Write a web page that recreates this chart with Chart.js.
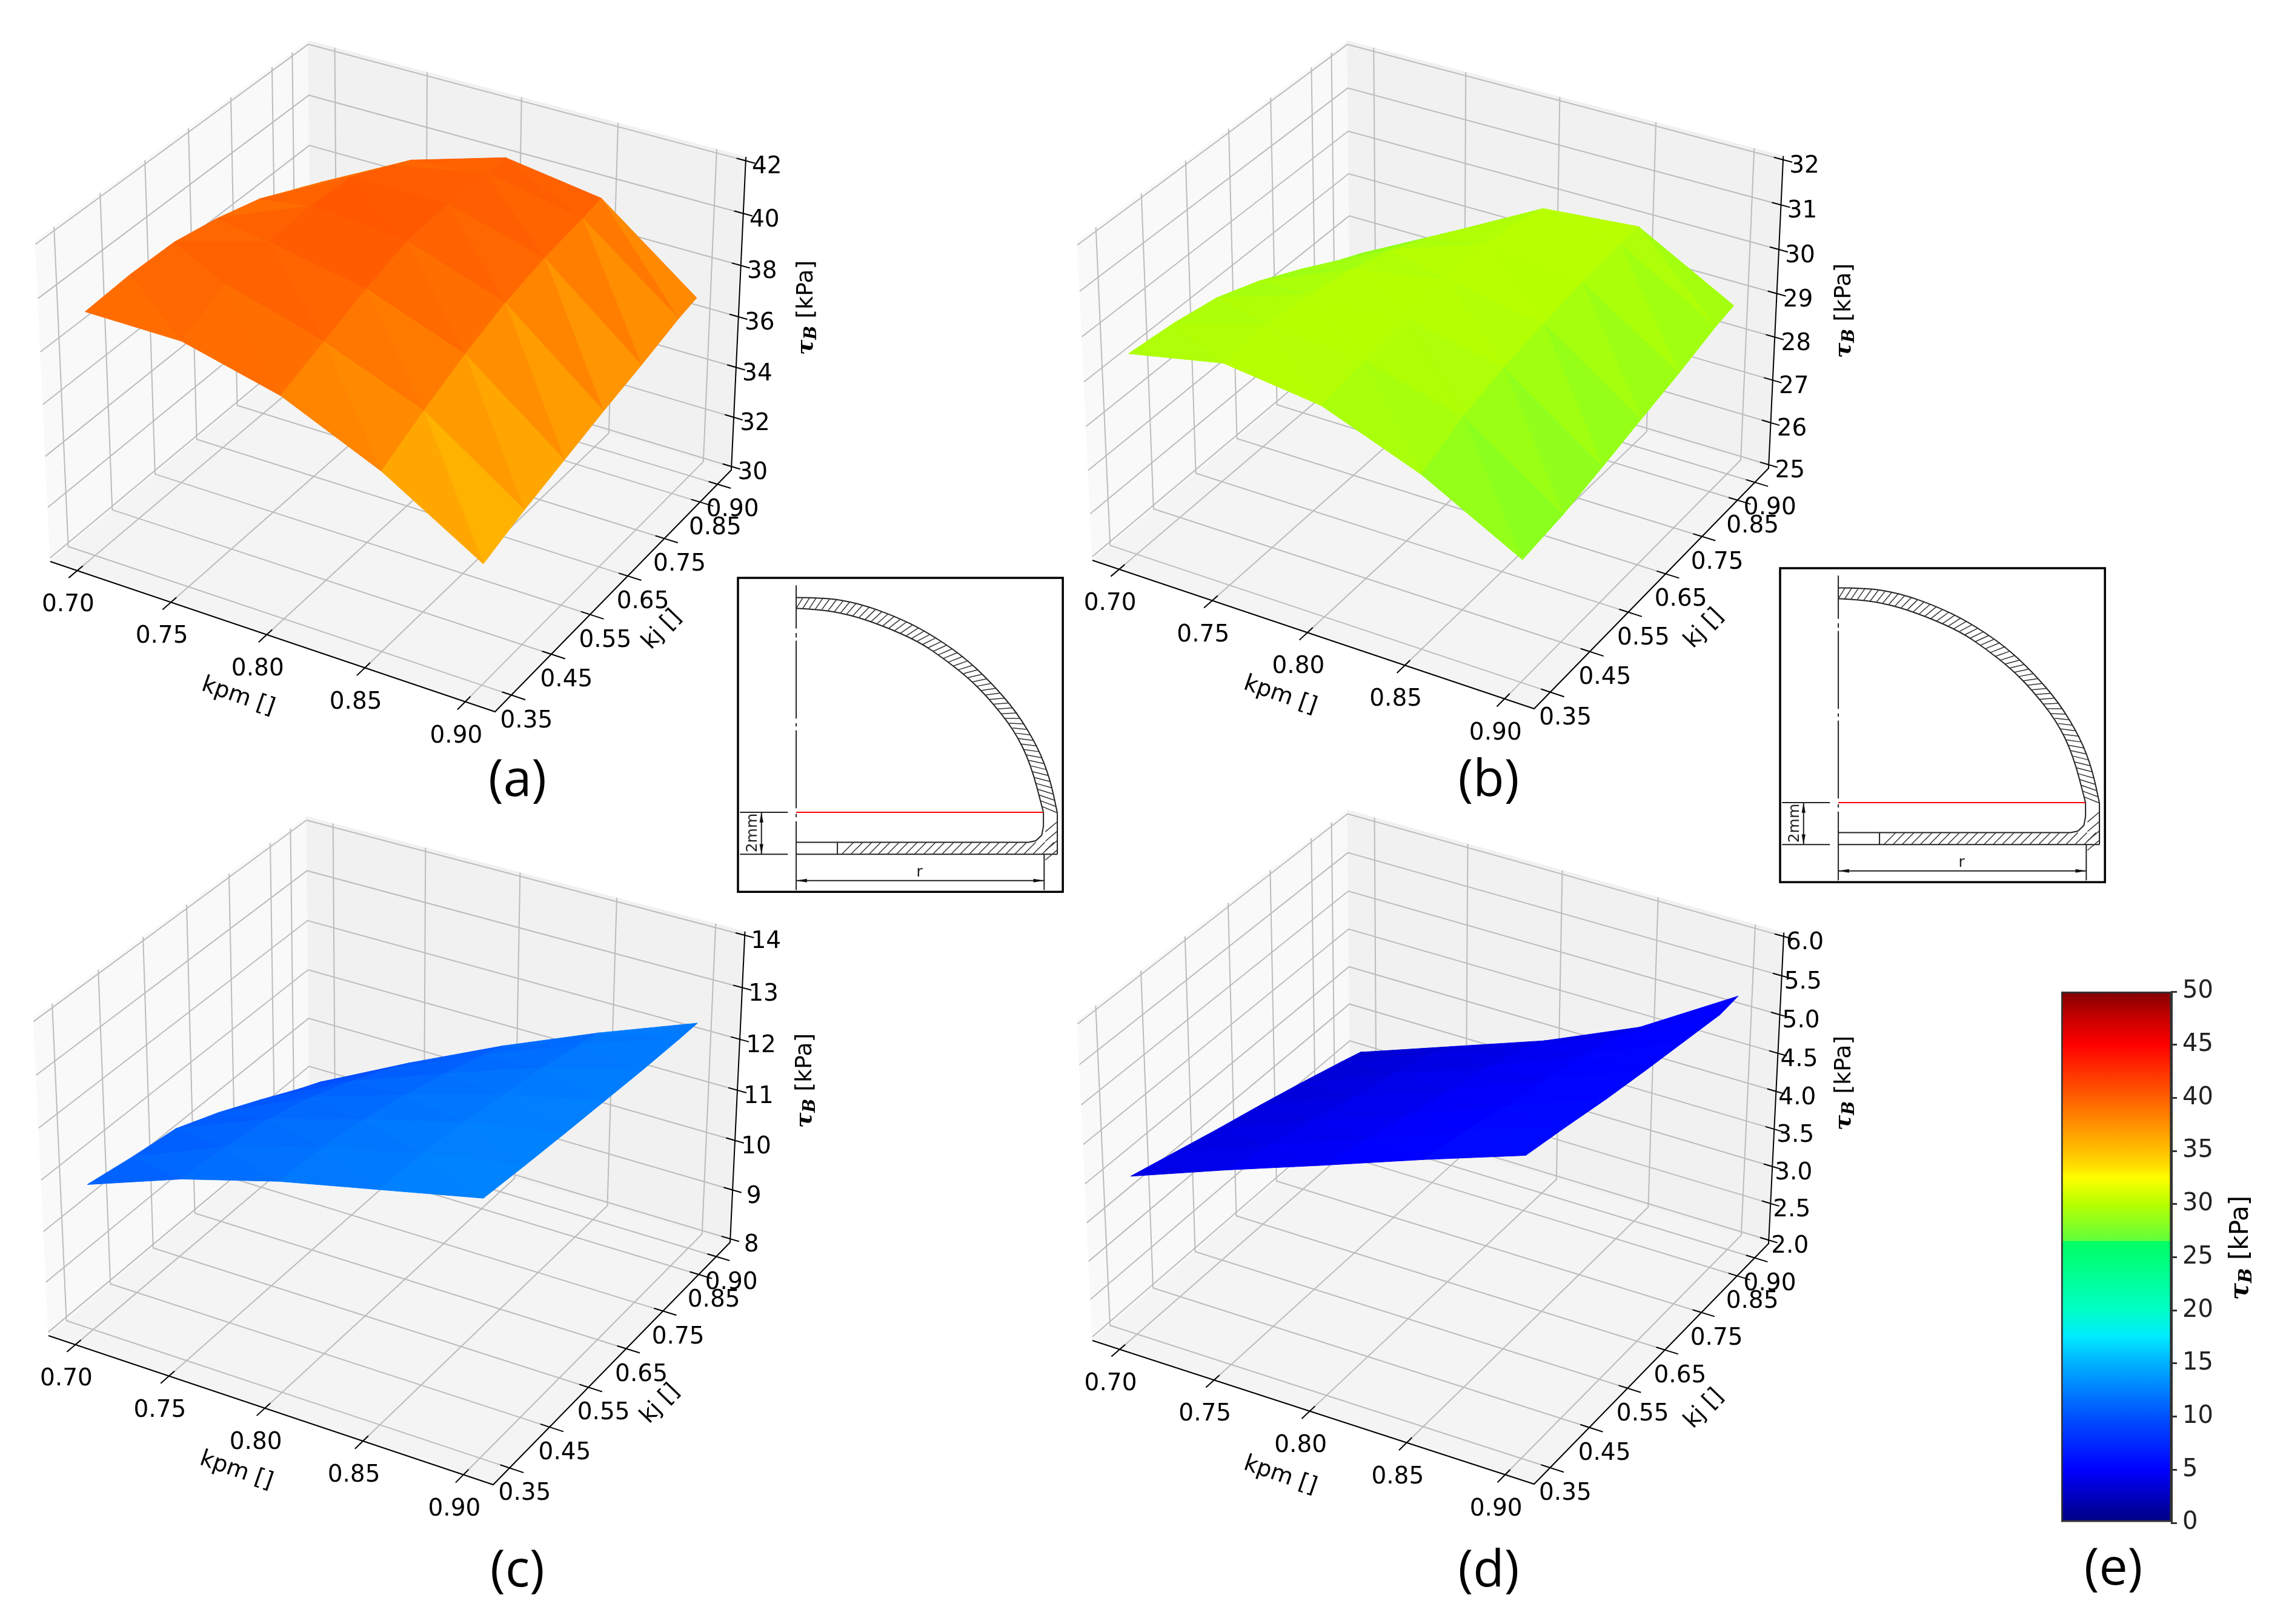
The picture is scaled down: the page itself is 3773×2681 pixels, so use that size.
<!DOCTYPE html>
<html>
<head>
<meta charset="utf-8">
<title>tau B surfaces</title>
<script src="https://cdn.jsdelivr.net/npm/chart.js@4"></script>
<style>
  html, body { margin: 0; padding: 0; background: #fff; }
  #wrap { position: relative; width: 3773px; height: 2681px; overflow: hidden; }
  canvas { position: absolute; }
</style>
</head>
<body>
<div id="wrap">
  <canvas id="myChart" width="3773" height="2681" style="left:0;top:0"></canvas>
  <canvas id="barChart" width="433" height="960" style="left:3340px;top:1600px"></canvas>
</div>
<script>
// data
const kpmValues = [0.70, 0.75, 0.80, 0.85, 0.90];
const kjValues = [0.35, 0.45, 0.55, 0.65, 0.75, 0.85, 0.90];
const kpmLabels = ['0.70', '0.75', '0.80', '0.85', '0.90'];
const kjLabels = ['0.35', '0.45', '0.55', '0.65', '0.75', '0.85', '0.90'];

// one row per kpm, one column per kj
const surfaceA = [
  [39.3, 39.4, 39.35, 39.0, 38.5, 37.7, 37.3],
  [39.3, 40.1, 40.4, 40.5, 40.4, 39.6, 39.2],
  [38.4, 39.05, 39.7, 40.2, 40.35, 40.3, 40.3],
  [36.75, 37.6, 38.35, 38.95, 39.35, 39.6, 39.75],
  [34.5, 35.05, 35.5, 35.95, 36.35, 36.8, 36.95]
];
const surfaceB = [
  [29.5, 29.39, 29.2, 28.82, 28.33, 27.8, 27.57],
  [29.94, 30.0, 29.9, 29.7, 29.4, 28.95, 28.69],
  [29.67, 29.85, 30.0, 30.1, 30.15, 30.0, 29.84],
  [28.84, 29.28, 29.55, 29.75, 29.9, 30.0, 30.03],
  [27.67, 27.8, 28.02, 28.26, 28.49, 28.76, 28.85]
];
const surfaceC = [
  [10.8, 10.64, 10.51, 10.15, 9.73, 9.29, 9.09],
  [11.48, 11.4, 11.25, 11.0, 10.65, 10.25, 10.03],
  [12.01, 11.95, 11.8, 11.6, 11.35, 11.05, 10.91],
  [12.43, 12.4, 12.3, 12.15, 12.0, 11.8, 11.7],
  [12.85, 12.75, 12.66, 12.58, 12.5, 12.44, 12.42]
];
const surfaceD = [
  [4.02, 3.86, 3.7, 3.55, 3.39, 3.22, 3.13],
  [4.48, 4.33, 4.18, 4.03, 3.88, 3.7, 3.57],
  [4.92, 4.77, 4.63, 4.48, 4.34, 4.15, 4.01],
  [5.37, 5.25, 5.1, 4.98, 4.85, 4.67, 4.55],
  [5.8, 5.69, 5.57, 5.47, 5.38, 5.29, 5.31]
];

const zTicksA = [30, 32, 34, 36, 38, 40, 42];
const zTicksB = [25, 26, 27, 28, 29, 30, 31, 32];
const zTicksC = [8, 9, 10, 11, 12, 13, 14];
const zTicksD = [2, 2.5, 3, 3.5, 4, 4.5, 5, 5.5, 6];
const zLabelsA = ['30', '32', '34', '36', '38', '40', '42'];
const zLabelsB = ['25', '26', '27', '28', '29', '30', '31', '32'];
const zLabelsC = ['8', '9', '10', '11', '12', '13', '14'];
const zLabelsD = ['2.0', '2.5', '3.0', '3.5', '4.0', '4.5', '5.0', '5.5', '6.0'];

// colour bar, same map colours the facets
const barTicks = [0, 50];
const mapValues = [0, 2.5, 5, 10, 15, 17.5, 20, 25, 26.5, 26.55, 30, 32.5, 33.5, 35, 37.5, 40, 42.5, 45, 47.5, 50];
const mapColors = ['#00007f', '#0000c0', '#0000ff', '#0050ff', '#00b0ff', '#00eaff', '#00ffc8', '#00ff78', '#00ff64',
  '#60ff3c', '#b8ff00', '#ffff00', '#ffe000', '#ffc000', '#ff9000', '#ff5f00', '#ff3000', '#ff0000', '#c80000', '#800000'];

// box corners on the page: p000 p100 p110 p010 p001 p111 (kpm, kj, tau)
const cornersA = [[83, 927], [817, 1175], [1207, 776], [514, 567], [58, 397], [1230, 250]];
const cornersB = [[1803, 925], [2532, 1170], [2919, 773], [2229, 566], [1778, 398], [2943, 255]];
const cornersC = [[80, 2205], [814, 2451], [1205, 2051], [511, 1844], [55, 1680], [1228, 1526]];
const cornersD = [[1803, 2213], [2532, 2450], [2919, 2053], [2229, 1844], [1778, 1684], [2943, 1530]];

const panelLetters = ['(a)', '(b)', '(c)', '(d)', '(e)'];
const letterPos = [[854, 1290], [2457, 1290], [854, 2595], [2457, 2595], [3488, 2592]];
const insetPos = [[1218, 954], [2938, 938]];

const panels = [
  { corners: cornersA, z: surfaceA, zTicks: zTicksA, zLabels: zLabelsA },
  { corners: cornersB, z: surfaceB, zTicks: zTicksB, zLabels: zLabelsB },
  { corners: cornersC, z: surfaceC, zTicks: zTicksC, zLabels: zLabelsC },
  { corners: cornersD, z: surfaceD, zTicks: zTicksD, zLabels: zLabelsD }
];

function hexToRgb(h) {
  return [parseInt(h.substr(1, 2), 16), parseInt(h.substr(3, 2), 16), parseInt(h.substr(5, 2), 16)];
}

function mapColor(v) {
  var i = 0;
  while (i < mapValues.length - 2 && v > mapValues[i + 1]) i++;
  var t = (v - mapValues[i]) / (mapValues[i + 1] - mapValues[i]);
  t = Math.max(0, Math.min(1, t));
  var a = hexToRgb(mapColors[i]), b = hexToRgb(mapColors[i + 1]);
  return 'rgb(' + [0, 1, 2].map(function (k) { return Math.round(a[k] + (b[k] - a[k]) * t); }).join(',') + ')';
}

// projective map of the unit box onto the page, from measured corners
function makeProjection(c) {
  var x0 = c[0][0], y0 = c[0][1], x1 = c[1][0], y1 = c[1][1], x2 = c[2][0], y2 = c[2][1], x3 = c[3][0], y3 = c[3][1];
  var sx = x0 - x1 + x2 - x3, sy = y0 - y1 + y2 - y3;
  var dx1 = x1 - x2, dx2 = x3 - x2, dy1 = y1 - y2, dy2 = y3 - y2;
  var det = dx1 * dy2 - dx2 * dy1;
  var g = (sx * dy2 - dx2 * sy) / det, h = (dx1 * sy - sx * dy1) / det;
  var a = x1 - x0 + g * x1, b = x3 - x0 + h * x3, d = y1 - y0 + g * y1, e = y3 - y0 + h * y3;
  var Lx = (x2 - c[5][0]) * (1 + g + h) + c[4][0] - x0;
  var Ly = (y2 - c[5][1]) * (1 + g + h) + c[4][1] - y0;
  var Dx = c[5][0] - c[4][0], Dy = c[5][1] - c[4][1];
  var k = (Lx * Dx + Ly * Dy) / (Dx * Dx + Dy * Dy);
  var cx = c[4][0] * (1 + k) - x0, cy = c[4][1] * (1 + k) - y0;
  return function (u, v, w) {
    var den = g * u + h * v + k * w + 1;
    return { x: (a * u + b * v + cx * w + x0) / den, y: (d * u + e * v + cy * w + y0) / den };
  };
}

const kpmPad = (kpmValues[4] - kpmValues[0]) * 1.1 / 48;
const kjPad = (kjValues[6] - kjValues[0]) * 1.1 / 48;
const kpmLo = kpmValues[0] - 0.05 * 0.2 - kpmPad, kpmHi = kpmValues[4] + 0.05 * 0.2 + kpmPad;
const kjLo = kjValues[0] - 0.05 * 0.55 - kjPad, kjHi = kjValues[6] + 0.05 * 0.55 + kjPad;

function U(kpm) { return (kpm - kpmLo) / (kpmHi - kpmLo); }
function V(kj) { return (kj - kjLo) / (kjHi - kjLo); }

var datasets = [];

function addShape(pts, color) {
  datasets.push({ data: pts.concat([pts[0]]), showLine: true, fill: 'shape', backgroundColor: color,
    borderColor: color, borderWidth: 1, pointRadius: 0, tension: 0 });
}
function addLine(pts, color, width) {
  datasets.push({ data: pts, showLine: true, fill: false, borderColor: color, borderWidth: width,
    pointRadius: 0, tension: 0 });
}

panels.forEach(function (p) {
  var proj = makeProjection(p.corners);
  p.proj = proj;
  var r = p.zTicks[p.zTicks.length - 1] - p.zTicks[0];
  var zLo = p.zTicks[0] - 0.012 * r, zHi = p.zTicks[p.zTicks.length - 1] + 0.012 * r;
  p.W = function (z) { return (z - zLo) / (zHi - zLo); };

  // panes
  addShape([proj(0, 0, 0), proj(0, 1, 0), proj(0, 1, 1), proj(0, 0, 1)], '#f9f9f9');
  addShape([proj(0, 1, 0), proj(1, 1, 0), proj(1, 1, 1), proj(0, 1, 1)], '#f1f1f1');
  addShape([proj(0, 0, 0), proj(1, 0, 0), proj(1, 1, 0), proj(0, 1, 0)], '#f4f4f4');

  // grid
  var gridColor = '#bcbcbc';
  kpmValues.forEach(function (k) {
    addLine([proj(U(k), 0, 0), proj(U(k), 1, 0), proj(U(k), 1, 1)], gridColor, 2);
  });
  kjValues.forEach(function (k) {
    addLine([proj(1, V(k), 0), proj(0, V(k), 0), proj(0, V(k), 1)], gridColor, 2);
  });
  p.zTicks.forEach(function (t) {
    addLine([proj(0, 0, p.W(t)), proj(0, 1, p.W(t)), proj(1, 1, p.W(t))], gridColor, 2);
  });

  // axis lines and tick marks
  addLine([proj(0, 0, 0), proj(1, 0, 0), proj(1, 1, 0), proj(1, 1, 1)], '#000', 2);
  kpmValues.forEach(function (k) {
    addLine([proj(U(k), 0.02, 0), proj(U(k), -0.03, 0)], '#000', 2);
  });
  kjValues.forEach(function (k) {
    addLine([proj(0.98, V(k), 0), proj(1.03, V(k), 0)], '#000', 2);
  });
  p.zTicks.forEach(function (t) {
    addLine([proj(0.98, 1, p.W(t)), proj(1.02, 1, p.W(t))], '#000', 2);
  });

  // surface facets, far ones first
  var tris = [];
  for (var i = 0; i < kpmValues.length - 1; i++) {
    for (var j = 0; j < kjValues.length - 1; j++) {
      tris.push([[i, j], [i + 1, j], [i, j + 1]]);
      tris.push([[i + 1, j], [i + 1, j + 1], [i, j + 1]]);
    }
  }
  var facets = tris.map(function (t) {
    var depth = 0, sum = 0;
    var pts = t.map(function (n) {
      var u = U(kpmValues[n[0]]), v = V(kjValues[n[1]]), z = p.z[n[0]][n[1]];
      depth += 0.433 * u - 0.75 * v + 0.4 * p.W(z);
      sum += z;
      return proj(u, v, p.W(z));
    });
    return { pts: pts, depth: depth, color: mapColor(sum / 3) };
  });
  facets.sort(function (a, b) { return a.depth - b.depth; });
  facets.forEach(function (f) { addShape(f.pts, f.color); });
});

// first dataset is drawn on top in Chart.js, so flip it
datasets.forEach(function (d, i) { d.order = datasets.length - i; });

function drawText(ctx, str, x, y, font, rot, color) {
  ctx.save();
  ctx.translate(x, y);
  ctx.rotate(rot || 0);
  ctx.font = font;
  ctx.fillStyle = color || '#000';
  ctx.textAlign = 'center';
  ctx.textBaseline = 'middle';
  ctx.fillText(str, 0, 0);
  ctx.restore();
}

// rotated "tau_B [kPa]" label
function drawTauLabel(ctx, x, y, size) {
  var f1 = 'italic bold ' + size + 'px "DejaVu Serif"';
  var f2 = 'italic bold ' + Math.round(size * 0.7) + 'px "DejaVu Serif"';
  var f3 = size + 'px "DejaVu Sans"';
  ctx.save();
  ctx.translate(x, y);
  ctx.rotate(-Math.PI / 2);
  ctx.textBaseline = 'alphabetic';
  ctx.textAlign = 'left';
  ctx.fillStyle = '#000';
  ctx.font = f1;
  var w1 = ctx.measureText('τ').width;
  ctx.font = f2;
  var w2 = ctx.measureText('B').width;
  ctx.font = f3;
  var w3 = ctx.measureText(' [kPa]').width;
  var sx = -(w1 + w2 + w3) / 2;
  ctx.font = f1;
  ctx.fillText('τ', sx, size * 0.35);
  ctx.font = f2;
  ctx.fillText('B', sx + w1, size * 0.5);
  ctx.font = f3;
  ctx.fillText(' [kPa]', sx + w1 + w2, size * 0.35);
  ctx.restore();
}

// section sketch, traced points in sketch units
const sketchOuter = [[340, 180], [460, 180], [600, 205], [750, 262], [880, 330], [1030, 435], [1150, 555], [1260, 690], [1350, 850], [1400, 990], [1430, 1140]];
const sketchInner = [[340, 228], [430, 232], [560, 255], [700, 305], [850, 375], [960, 455], [1060, 540], [1140, 625], [1250, 770], [1320, 925], [1372, 1138]];
const sketchFillet = [[1372, 1138], [1372, 1200], [1365, 1240], [1340, 1265], [1310, 1272], [512, 1272]];
const sketchAxisDashes = [[125, 318], [338, 358], [372, 720], [740, 755], [772, 1120], [1145, 1160], [1178, 1485]];

function resample(line, n) {
  var lens = [0];
  for (var i = 1; i < line.length; i++) {
    lens.push(lens[i - 1] + Math.hypot(line[i][0] - line[i - 1][0], line[i][1] - line[i - 1][1]));
  }
  var out = [], seg = 1;
  for (var k = 0; k <= n; k++) {
    var s = lens[lens.length - 1] * k / n;
    while (seg < line.length - 1 && lens[seg] < s) seg++;
    var t = (s - lens[seg - 1]) / (lens[seg] - lens[seg - 1]);
    out.push([line[seg - 1][0] + (line[seg][0] - line[seg - 1][0]) * t, line[seg - 1][1] + (line[seg][1] - line[seg - 1][1]) * t]);
  }
  return out;
}

function drawInset(ctx, ox, oy) {
  function X(x) { return ox + (x - 97) / 2.529; }
  function Y(y) { return oy + (y - 92) / 2.703; }
  function seg(a, b, c, d) { ctx.beginPath(); ctx.moveTo(X(a), Y(b)); ctx.lineTo(X(c), Y(d)); ctx.stroke(); }
  function path(pts) {
    ctx.beginPath();
    pts.forEach(function (q, i) { if (i) ctx.lineTo(X(q[0]), Y(q[1])); else ctx.moveTo(X(q[0]), Y(q[1])); });
    ctx.stroke();
  }
  // rounded through the midpoints so the dome does not look faceted
  function curve(pts) {
    ctx.beginPath();
    ctx.moveTo(X(pts[0][0]), Y(pts[0][1]));
    for (var n = 1; n < pts.length - 1; n++) {
      ctx.quadraticCurveTo(X(pts[n][0]), Y(pts[n][1]), X((pts[n][0] + pts[n + 1][0]) / 2), Y((pts[n][1] + pts[n + 1][1]) / 2));
    }
    ctx.lineTo(X(pts[pts.length - 1][0]), Y(pts[pts.length - 1][1]));
    ctx.stroke();
  }
  function arrow(x, y, dx, dy) {
    ctx.beginPath();
    ctx.moveTo(X(x), Y(y));
    ctx.lineTo(X(x + dx * 45 - dy * 8), Y(y + dy * 45 - dx * 8));
    ctx.lineTo(X(x + dx * 45 + dy * 8), Y(y + dy * 45 + dx * 8));
    ctx.closePath();
    ctx.fill();
  }
  ctx.save();
  ctx.fillStyle = '#fff';
  ctx.fillRect(X(97), Y(92), (1453 - 97) / 2.529, (1493 - 92) / 2.703);
  ctx.strokeStyle = '#000';
  ctx.lineWidth = 3.5;
  ctx.strokeRect(X(97), Y(92), (1453 - 97) / 2.529, (1493 - 92) / 2.703);

  ctx.strokeStyle = '#222';
  ctx.fillStyle = '#111';
  ctx.lineWidth = 2;
  sketchAxisDashes.forEach(function (d) { seg(340, d[0], 340, d[1]); });
  curve(sketchOuter);
  seg(1430, 1140, 1430, 1325);
  curve(sketchInner);
  path(sketchFillet);
  seg(340, 1272, 512, 1272);
  seg(340, 1325, 1430, 1325);
  seg(512, 1272, 512, 1325);
  seg(105, 1138, 305, 1138);
  seg(105, 1325, 305, 1325);
  seg(195, 1138, 195, 1325);
  seg(1375, 1325, 1375, 1485);
  seg(340, 1443, 1375, 1443);
  arrow(195, 1138, 0, 1);
  arrow(195, 1325, 0, -1);
  arrow(340, 1443, 1, 0);
  arrow(1375, 1443, -1, 0);

  // hatching
  ctx.strokeStyle = '#333';
  ctx.lineWidth = 1.5;
  var a = resample(sketchInner, 56), b = resample(sketchOuter, 56);
  for (var i = 0; i < 56; i++) seg(a[i][0], a[i][1], b[i + 1][0], b[i + 1][1]);
  for (var x = 530; x < 1400; x += 38) seg(x, 1325, x + 50, 1272);
  for (var y = 1180; y < 1320; y += 42) seg(1380, y + 45, 1430, y);

  ctx.strokeStyle = '#f00';
  ctx.lineWidth = 2;
  seg(340, 1138, 1372, 1138);
  ctx.restore();

  drawText(ctx, '2mm', X(160), Y(1230), '25px "DejaVu Sans"', -Math.PI / 2, '#222');
  drawText(ctx, 'r', X(855), Y(1408), '25px "DejaVu Sans"', 0, '#222');
}

const textPlugin = {
  id: 'textPlugin',
  afterDatasetsDraw: function (chart) {
    var ctx = chart.ctx, sx = chart.scales.x, sy = chart.scales.y;
    var font = '39px "DejaVu Sans"';
    function px(q) { return { x: sx.getPixelForValue(q.x), y: sy.getPixelForValue(q.y) }; }

    panels.forEach(function (p) {
      kpmValues.forEach(function (k, i) {
        var q = px(p.proj(U(k), 0, 0));
        drawText(ctx, kpmLabels[i], q.x - 15, q.y + 57, font);
      });
      kjValues.forEach(function (k, i) {
        var q = px(p.proj(1, V(k), 0));
        drawText(ctx, kjLabels[i], q.x + 25, q.y + 43, font);
      });
      p.zTicks.forEach(function (t, i) {
        var q = px(p.proj(1, 1, p.W(t)));
        drawText(ctx, p.zLabels[i], q.x + 35, q.y + 11, font);
      });
      var c0 = p.corners[0], c5 = p.corners[5];
      drawText(ctx, 'kpm []', c0[0] + 310, c0[1] + 223, '38px "DejaVu Sans"', 19 * Math.PI / 180);
      drawText(ctx, 'kj []', c0[0] + 1010, c0[1] + 113, '38px "DejaVu Sans"', -46 * Math.PI / 180);
      drawTauLabel(ctx, c5[0] + 98, c5[1] + 258, 38);
    });

    insetPos.forEach(function (q) { drawInset(ctx, q[0], q[1]); });
    panelLetters.forEach(function (s, i) {
      drawText(ctx, s, letterPos[i][0], letterPos[i][1], '84px "Open Sans"');
    });
    drawTauLabel(ctx, 3695, 2060, 42);
  }
};

var ctx = document.getElementById('myChart');
var myChart = new Chart(ctx, {
  type: 'scatter',
  data: { datasets: datasets },
  options: {
    responsive: false,
    animation: false,
    events: [],
    layout: { padding: 0 },
    scales: {
      x: { type: 'linear', min: 0, max: 3773, display: false },
      y: { type: 'linear', min: 0, max: 2681, reverse: true, display: false }
    },
    plugins: { legend: { display: false }, tooltip: { enabled: false } }
  },
  plugins: [textPlugin]
});

var barChart = new Chart(document.getElementById('barChart'), {
  type: 'bar',
  data: {
    labels: ['tau'],
    datasets: [{
      data: [[barTicks[0], barTicks[1]]],
      barPercentage: 1,
      categoryPercentage: 1,
      borderColor: '#333',
      borderWidth: 3,
      borderSkipped: false,
      backgroundColor: function (c) {
        var ch = c.chart;
        if (!ch.chartArea) return '#000';
        var ys = ch.scales.y;
        var g = ch.ctx.createLinearGradient(0, ys.getPixelForValue(0), 0, ys.getPixelForValue(50));
        mapValues.forEach(function (v, i) { g.addColorStop(v / 50, mapColors[i]); });
        return g;
      }
    }]
  },
  options: {
    responsive: false,
    animation: false,
    events: [],
    layout: { padding: { left: 62, top: 37, bottom: 46, right: 0 } },
    scales: {
      x: { display: false },
      y: {
        position: 'right',
        min: 0,
        max: 50,
        afterFit: function (s) { s.width = 189; },
        ticks: { stepSize: 5, padding: 9, color: '#222', font: { family: 'DejaVu Sans', size: 40 } },
        grid: { drawOnChartArea: false, tickLength: 9, color: '#333', lineWidth: 3 },
        border: { color: '#333', width: 3 }
      }
    },
    plugins: { legend: { display: false }, tooltip: { enabled: false } }
  }
});
</script>
</body>
</html>
